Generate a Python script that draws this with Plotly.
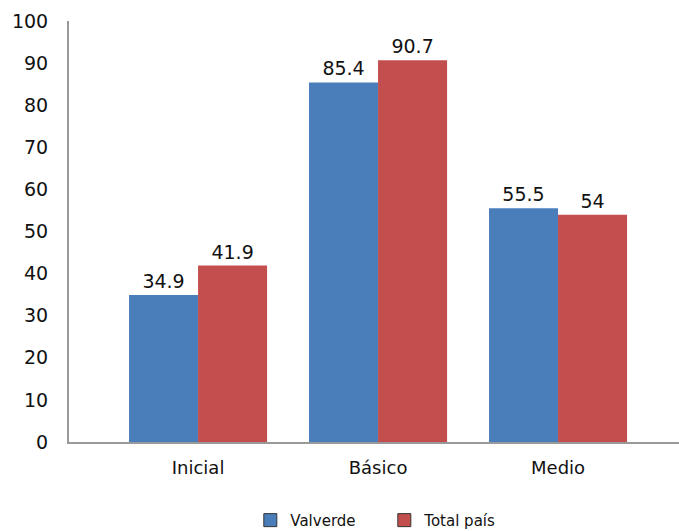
import plotly.graph_objects as go

categories = ["Inicial", "Básico", "Medio"]
valverde = [34.9, 85.4, 55.5]
total_pais = [41.9, 90.7, 54]
valverde_labels = ["34.9", "85.4", "55.5"]
total_labels = ["41.9", "90.7", "54"]
y_ticks = [0, 10, 20, 30, 40, 50, 60, 70, 80, 90, 100]

BLUE = "#4A7EBB"
RED = "#C24F4E"
FONT = "DejaVu Sans"

fig = go.Figure()
fig.add_trace(go.Bar(
    x=categories, y=valverde, name="Valverde", marker=dict(color=BLUE, line=dict(width=0)),
    text=valverde_labels, textposition="outside", textfont=dict(size=19, color="#111"),
    cliponaxis=False, showlegend=False))
fig.add_trace(go.Bar(
    x=categories, y=total_pais, name="Total país", marker=dict(color=RED, line=dict(width=0)),
    text=total_labels, textposition="outside", textfont=dict(size=19, color="#111"),
    cliponaxis=False, showlegend=False))
# legend entries
for nm, col in [("Valverde", BLUE), ("Total país", RED)]:
    fig.add_trace(go.Scatter(
        x=[None], y=[None], mode="markers", name=nm,
        marker=dict(symbol="square", size=13, color=col, line=dict(color="#333", width=1))))

fig.update_layout(
    width=679, height=531,
    margin=dict(l=69, r=0, t=21, b=89),
    paper_bgcolor="white", plot_bgcolor="white",
    font=dict(family=FONT, color="#111"),
    barmode="group", bargap=0.233, bargroupgap=0,
    showlegend=True,
    legend=dict(orientation="h", x=0.566, xanchor="center", xref="container",
                y=0.02, yanchor="middle", yref="container",
                font=dict(size=15), entrywidth=89, itemwidth=30),
    xaxis=dict(range=[-0.717, 2.672], showline=True, linecolor="#999", linewidth=2,
               ticks="", tickfont=dict(size=18), ticklabelstandoff=8, showgrid=False),
    yaxis=dict(range=[0, 100], tickvals=y_ticks, showline=True, linecolor="#999", linewidth=2,
               ticks="", tickfont=dict(size=19), showgrid=False, zeroline=False,
               ticklabelstandoff=15),
)
fig.write_html("out.html", config={"displayModeBar": False},
               post_script="document.body.style.margin='0';document.body.style.padding='0';")
